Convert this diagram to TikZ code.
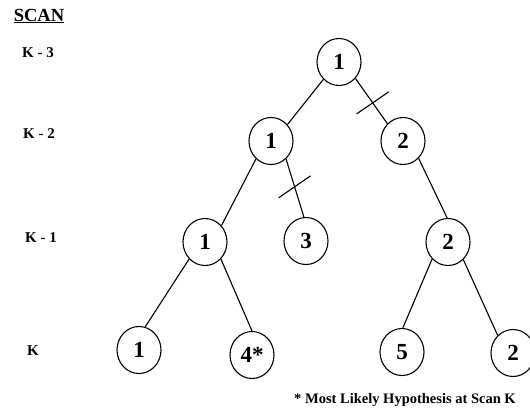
\documentclass[tikz,border=0pt]{standalone}
\usepackage{fontspec}
\setmainfont{Liberation Serif}
\usetikzlibrary{shapes.geometric,calc}

\begin{document}
\begin{tikzpicture}[
  x=1pt, y=-1pt,
  hyp/.style={ellipse, draw, line width=1.1pt, minimum width=44pt, minimum height=47pt, inner sep=0pt, font=\fontsize{23}{23}\selectfont\bfseries},
  scanlbl/.style={font=\fontsize{15}{15}\selectfont\bfseries},
  edge/.style={line width=1.1pt},
  prune/.style={line width=1.1pt}
]
\useasboundingbox (0,0) rectangle (530,412);

% scan axis
\node[scanlbl, font=\fontsize{18.5}{18.5}\selectfont\bfseries] (scan) at (39,16) {\underline{SCAN}};
\node[scanlbl] (k3) at (38,53) {K - 3};
\node[scanlbl] (k2) at (39,134) {K - 2};
\node[scanlbl] (k1) at (41,238) {K - 1};
\node[scanlbl] (k0) at (33,351) {K};

% hypothesis tree
\node[hyp] (root) at (339,62) {1};
\node[hyp] (a1) at (271,141) {1};
\node[hyp] (a2) at (403,141) {2};
\node[hyp] (b1) at (205,242) {1};
\node[hyp] (b3) at (306,241) {3};
\node[hyp] (b2) at (448,242) {2};
\node[hyp] (c1) at (139,350) {1};
\node[hyp] (c4) at (252,355) {4*};
\node[hyp] (c5) at (402,352) {5};
\node[hyp] (c2) at (513,353) {2};

\draw[edge] (root.-132) -- (a1.45);
\draw[edge] (root.-45) -- coordinate[pos=0.54] (cut1) (a2.132);
\draw[edge] (a1.-130) -- (b1.45);
\draw[edge] (a1.-50) -- coordinate[pos=0.48] (cut2) (b3.95);
\draw[edge] (a2.-48) -- (b2.92);
\draw[edge] (b1.-133) -- (c1.75);
\draw[edge] (b1.-47) -- (c4.90);
\draw[edge] (b2.-133) -- (c5.88);
\draw[edge] (b2.-49) -- (c2.131);

% pruned branches
\draw[prune] ($(cut1)+(-16,11)$) -- ($(cut1)+(16,-11)$);
\draw[prune] ($(cut2)+(-16,11)$) -- ($(cut2)+(16,-11)$);

\node[scanlbl, font=\fontsize{14.5}{14.5}\selectfont\bfseries] (note) at (405,400) {* Most Likely Hypothesis at Scan K};
\end{tikzpicture}
\end{document}
